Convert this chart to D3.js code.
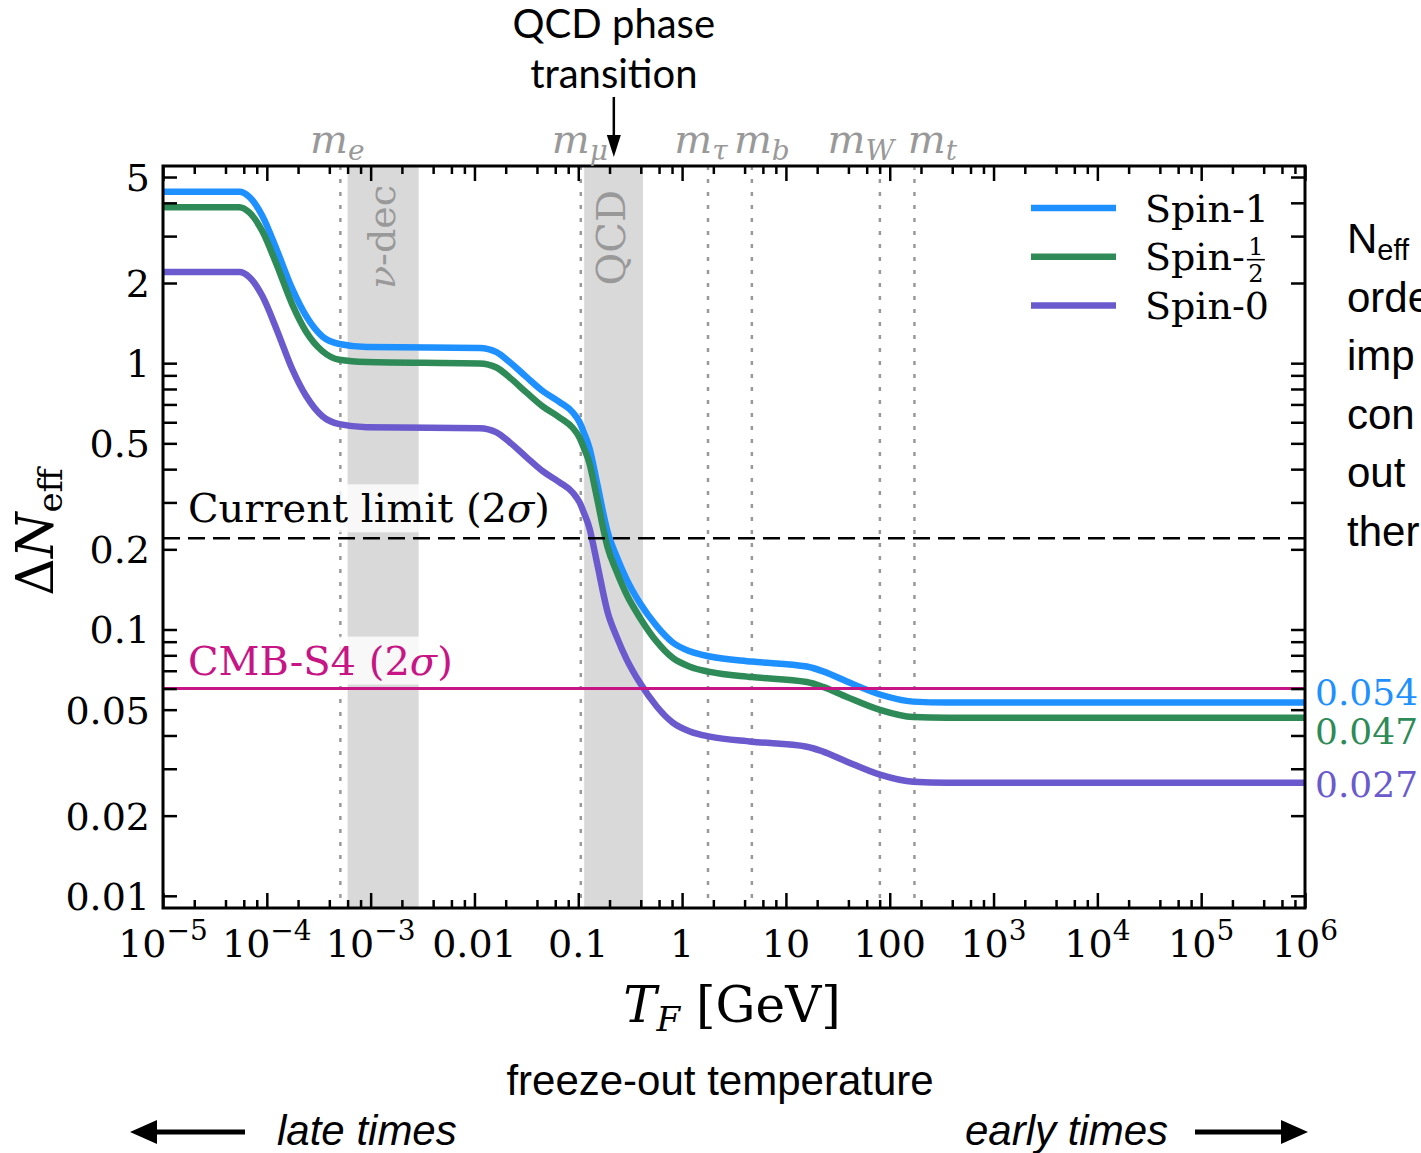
<!DOCTYPE html>
<html>
<head>
<meta charset="utf-8">
<script src="https://cdn.jsdelivr.net/npm/d3@7"></script>
<style>
  body { margin: 0; background: #fff; }
  svg text { font-family: "DejaVu Serif", serif; }
  svg text.sans { font-family: "Liberation Sans", Arial, sans-serif; }
  svg text.gill { font-family: Lato, "Open Sans", sans-serif; }
</style>
</head>
<body>
<div id="chart"></div>
<script>
// freeze-out temperature T_F in GeV
var temps = [1e-5, 5.43e-5, 6.78e-5, 9.06e-5, 1.24e-4, 1.76e-4, 2.40e-4, 3.43e-4, 5.00e-4, 9.12e-4,
  0.0112, 0.0163, 0.0218, 0.0318, 0.0454, 0.0661, 0.0883, 0.103, 0.113, 0.129,
  0.138, 0.154, 0.192, 0.234, 0.293, 0.391, 0.570, 0.813, 1.19, 1.85,
  4.70, 15.9, 22.8, 38.7, 80.5, 168, 357, 1e6];

// Delta N_eff for each spin
var spin1 = [4.40, 4.40, 4.21, 3.57, 2.68, 1.90, 1.50, 1.26, 1.18, 1.15,
  1.14, 1.10, 1.01, 0.886, 0.786, 0.714, 0.654, 0.600, 0.550, 0.476,
  0.424, 0.345, 0.232, 0.188, 0.154, 0.126, 0.103, 0.0894, 0.0828, 0.0792,
  0.0758, 0.0726, 0.0696, 0.0638, 0.0570, 0.0536, 0.0532, 0.0532];
var spinHalf = [3.85, 3.85, 3.68, 3.13, 2.35, 1.66, 1.31, 1.11, 1.03, 1.01,
  0.998, 0.963, 0.884, 0.775, 0.688, 0.625, 0.572, 0.525, 0.481, 0.417,
  0.371, 0.302, 0.203, 0.165, 0.135, 0.111, 0.090, 0.0782, 0.0725, 0.0693,
  0.0663, 0.0635, 0.0609, 0.0558, 0.0499, 0.0469, 0.0466, 0.0466];
var spin0 = [2.20, 2.20, 2.105, 1.786, 1.342, 0.949, 0.751, 0.632, 0.590, 0.575,
  0.570, 0.550, 0.505, 0.443, 0.393, 0.357, 0.327, 0.300, 0.275, 0.238,
  0.212, 0.1726, 0.116, 0.094, 0.0771, 0.0632, 0.0514, 0.0447, 0.0414, 0.0396,
  0.0379, 0.0363, 0.0348, 0.0319, 0.0285, 0.0268, 0.0266, 0.0266];

var seriesNames = ["Spin-1", "Spin-", "Spin-0"];
var asymptoteLabels = ["0.054", "0.047", "0.027"];

// particle masses in GeV
var massNames = ["e", "μ", "τ", "b", "W", "t"];
var massValues = [0.000511, 0.1057, 1.777, 4.7, 80.4, 173];

// shaded regions
var bandNames = ["dec", "QCD"];
var bandRanges = [[6.0e-4, 2.9e-3], [0.114, 0.42]];
var qcdArrowT = 0.22;

var currentLimit = 0.22;
var cmbS4 = 0.06;

var xTickValues = [1e-5, 1e-4, 1e-3, 0.01, 0.1, 1, 10, 100, 1e3, 1e4, 1e5, 1e6];
var xTickBase = ["10", "10", "10", "0.01", "0.1", "1", "10", "100", "10", "10", "10", "10"];
var xTickExp = ["−5", "−4", "−3", "", "", "", "", "", "3", "4", "5", "6"];
var yTickValues = [0.01, 0.02, 0.05, 0.1, 0.2, 0.5, 1, 2, 5];
var yTickLabels = ["0.01", "0.02", "0.05", "0.1", "0.2", "0.5", "1", "2", "5"];

var sideText = ["order", "imp", "con", "out", "ther"];

/////////////////////
/////  LAYOUT  /////
/////////////////////
var width = 1421, height = 1153;
var pLeft = 163, pRight = 1305, pTop = 166, pBottom = 908;
var colors = ["#1e90ff", "#2e8b57", "#6a5acd"];
var magenta = "#c71585";
var grey = "#999";
var massShift = [-3, -1, -7, 10, -19, 18];

var svg = d3.select("#chart").append("svg")
  .attr("width", width).attr("height", height)
  .style("display", "block");

var x = d3.scaleLog().domain([1e-5, 1e6]).range([pLeft, pRight]);
var y = d3.scaleLog().domain([0.009, 5.5]).range([pBottom, pTop]);

svg.append("clipPath").attr("id", "plotclip")
  .append("rect").attr("x", pLeft).attr("y", pTop)
  .attr("width", pRight - pLeft).attr("height", pBottom - pTop);

var plot = svg.append("g").attr("clip-path", "url(#plotclip)");

/* grey bands */
plot.selectAll(".band").data(bandRanges).enter()
  .append("rect").attr("class", "band")
  .attr("x", function(d) { return x(d[0]); })
  .attr("width", function(d) { return x(d[1]) - x(d[0]); })
  .attr("y", pTop).attr("height", pBottom - pTop)
  .style("fill", "#d9d9d9");

/* dotted mass lines */
plot.selectAll(".mass-line").data(massValues).enter()
  .append("line").attr("class", "mass-line")
  .attr("x1", function(d) { return x(d); }).attr("x2", function(d) { return x(d); })
  .attr("y1", pTop).attr("y2", pBottom)
  .style("stroke", grey).style("stroke-width", 2.5).style("stroke-dasharray", "4,9");

/* label with a white box behind */
function boxedLabel(txt, color, yPos) {
  var g = svg.append("g");
  var t = g.append("text").attr("x", 188).attr("y", yPos)
    .style("font-size", "40px").style("fill", color);
  t.append("tspan").text(txt + " (2");
  t.append("tspan").style("font-style", "italic").text("σ");
  t.append("tspan").text(")");
  var b = t.node().getBBox();
  g.insert("rect", "text")
    .attr("x", b.x - 6).attr("y", b.y - 1)
    .attr("width", b.width + 12).attr("height", b.height + 2)
    .style("fill", "#fff").style("opacity", 0.8);
}
boxedLabel("Current limit", "#000", y(currentLimit) - 16);
boxedLabel("CMB-S4", magenta, y(cmbS4) - 14);

/* curves */
var line = d3.line()
  .x(function(d) { return x(d[0]); })
  .y(function(d) { return y(d[1]); })
  .curve(d3.curveMonotoneX);

var series = [spin1, spinHalf, spin0];
series.forEach(function(vals, i) {
  var pts = temps.map(function(t, j) { return [t, vals[j]]; });
  svg.append("path").datum(pts)
    .attr("clip-path", "url(#plotclip)")
    .attr("d", line)
    .style("fill", "none").style("stroke", colors[i]).style("stroke-width", 6.5);
});

/* horizontal limits */
svg.append("line")
  .attr("x1", pLeft).attr("x2", pRight).attr("y1", y(currentLimit)).attr("y2", y(currentLimit))
  .style("stroke", "#000").style("stroke-width", 2.5).style("stroke-dasharray", "17,8");
svg.append("line")
  .attr("x1", pLeft).attr("x2", pRight).attr("y1", y(cmbS4)).attr("y2", y(cmbS4))
  .style("stroke", magenta).style("stroke-width", 3);

/* band labels, rotated */
var bandLab = [
  { bx: 11.5, ty: 185, size: 38 },
  { bx: 11, ty: 190, size: 40 }
];
bandRanges.forEach(function(b, i) {
  var cx = Math.sqrt(b[0] * b[1]);
  var t = svg.append("text")
    .attr("transform", "translate(" + (x(cx) + bandLab[i].bx) + "," + bandLab[i].ty + ") rotate(-90)")
    .attr("text-anchor", "end")
    .style("font-size", bandLab[i].size + "px").style("fill", grey);
  if (i == 0) {
    t.append("tspan").style("font-style", "italic").text("ν");
    t.append("tspan").text("-" + bandNames[i]);
  } else {
    t.text(bandNames[i]);
  }
});

/////////////////////
/////   AXES   /////
/////////////////////
var xMinor = [];
for (var d = -5; d < 6; d++) {
  [2, 4, 6, 8].forEach(function(k) { xMinor.push(k * Math.pow(10, d)); });
}
var yAll = [];
for (var n = -2; n <= 0; n++) {
  for (var k = 1; k <= 9; k++) {
    var v = k * Math.pow(10, n);
    if (v >= 0.009 && v <= 5.5) yAll.push(+v.toPrecision(3));
  }
}

function tickGroup(axis, transform) {
  var g = svg.append("g").attr("transform", transform).call(axis);
  g.select(".domain").remove();
  g.selectAll(".tick line").style("stroke", "#000").style("stroke-width", 2.5);
  return g;
}
tickGroup(d3.axisBottom(x).tickValues(xTickValues).tickSize(-15).tickFormat(""), "translate(0," + pBottom + ")");
tickGroup(d3.axisBottom(x).tickValues(xMinor).tickSize(-8).tickFormat(""), "translate(0," + pBottom + ")");
tickGroup(d3.axisTop(x).tickValues(xTickValues).tickSize(-15).tickFormat(""), "translate(0," + pTop + ")");
tickGroup(d3.axisTop(x).tickValues(xMinor).tickSize(-8).tickFormat(""), "translate(0," + pTop + ")");
tickGroup(d3.axisLeft(y).tickValues(yAll).tickSize(-14).tickFormat(""), "translate(" + pLeft + ",0)");
tickGroup(d3.axisRight(y).tickValues(yAll).tickSize(-14).tickFormat(""), "translate(" + pRight + ",0)");

svg.append("rect")
  .attr("x", pLeft).attr("y", pTop).attr("width", pRight - pLeft).attr("height", pBottom - pTop)
  .style("fill", "none").style("stroke", "#000").style("stroke-width", 3);

/* x tick labels */
xTickValues.forEach(function(v, i) {
  var t = svg.append("text").attr("x", x(v)).attr("y", 957)
    .attr("text-anchor", "middle").style("font-size", "38px");
  t.append("tspan").text(xTickBase[i]);
  if (xTickExp[i] != "") {
    t.append("tspan").attr("dy", -17).style("font-size", "28px").text(xTickExp[i]);
  }
});

/* y tick labels */
svg.selectAll(".ylab").data(yTickValues).enter()
  .append("text").attr("class", "ylab")
  .attr("x", 150).attr("y", function(d) { return y(d) + 14; })
  .attr("text-anchor", "end").style("font-size", "38px")
  .text(function(d, i) { return yTickLabels[i]; });

/* axis titles */
var xt = svg.append("text").attr("x", 732).attr("y", 1022)
  .attr("text-anchor", "middle").style("font-size", "50px");
xt.append("tspan").style("font-style", "italic").text("T");
xt.append("tspan").attr("dy", 9).style("font-size", "34px").style("font-style", "italic").text("F");
xt.append("tspan").attr("dy", -9).text("  [GeV]");

var yt = svg.append("text").attr("transform", "translate(53,532) rotate(-90)")
  .attr("text-anchor", "middle").style("font-size", "52px");
yt.append("tspan").text("Δ");
yt.append("tspan").style("font-style", "italic").text("N");
yt.append("tspan").attr("dy", 9).style("font-size", "34px").text("eff");

/* mass labels on top */
massValues.forEach(function(m, i) {
  var t = svg.append("text").attr("x", x(m) + massShift[i]).attr("y", 153)
    .attr("text-anchor", "middle").style("font-size", "40px").style("fill", grey)
    .style("font-style", "italic");
  t.append("tspan").text("m");
  t.append("tspan").attr("dy", 7).style("font-size", "28px").text(massNames[i]);
});

/* QCD phase transition annotation */
svg.append("text").attr("class", "gill").attr("x", x(qcdArrowT)).attr("y", 38)
  .attr("text-anchor", "middle").style("font-size", "40px").text("QCD phase");
svg.append("text").attr("class", "gill").attr("x", x(qcdArrowT)).attr("y", 88)
  .attr("text-anchor", "middle").style("font-size", "40px").text("transition");
svg.append("line").attr("x1", x(qcdArrowT)).attr("x2", x(qcdArrowT)).attr("y1", 97).attr("y2", 140)
  .style("stroke", "#000").style("stroke-width", 2.5);
svg.append("path")
  .attr("d", d3.line()([[x(qcdArrowT), 157], [x(qcdArrowT) - 7, 135], [x(qcdArrowT) + 7, 135]]))
  .style("fill", "#000");

/* legend */
seriesNames.forEach(function(name, i) {
  var ly = 208 + i * 48.7;
  svg.append("line").attr("x1", 1031).attr("x2", 1116).attr("y1", ly).attr("y2", ly)
    .style("stroke", colors[i]).style("stroke-width", 6.5);
  var t = svg.append("text").attr("x", 1145).attr("y", ly + 13.5)
    .style("font-size", "38px").text(name);
  if (i == 1) {
    var fx = 1145 + t.node().getComputedTextLength() + 11;
    svg.append("text").attr("x", fx).attr("y", ly - 2).attr("text-anchor", "middle")
      .style("font-size", "24px").text("1");
    svg.append("line").attr("x1", fx - 9).attr("x2", fx + 9).attr("y1", ly + 3).attr("y2", ly + 3)
      .style("stroke", "#000").style("stroke-width", 1.6);
    svg.append("text").attr("x", fx).attr("y", ly + 25).attr("text-anchor", "middle")
      .style("font-size", "24px").text("2");
  }
});

/* asymptotic values at the right edge */
var lastVals = [spin1[spin1.length - 1], spinHalf[spinHalf.length - 1], spin0[spin0.length - 1]];
var asymShift = [3, 26, 14];
asymptoteLabels.forEach(function(lab, i) {
  svg.append("text").attr("x", 1315).attr("y", y(lastVals[i]) + asymShift[i])
    .style("font-size", "36px").style("fill", colors[i]).text(lab);
});

/* cut-off text at the right */
var nt = svg.append("text").attr("class", "sans").attr("x", 1347).attr("y", 253)
  .style("font-size", "42px");
nt.append("tspan").text("N");
nt.append("tspan").attr("dy", 7).style("font-size", "29px").text("eff");
sideText.forEach(function(s, i) {
  svg.append("text").attr("class", "sans").attr("x", 1347).attr("y", 311.5 + i * 58.5)
    .style("font-size", "42px").text(s);
});

/* bottom captions */
svg.append("text").attr("class", "sans").attr("x", 720).attr("y", 1095)
  .attr("text-anchor", "middle").style("font-size", "42px").text("freeze-out temperature");
svg.append("text").attr("class", "sans").attr("x", 277).attr("y", 1145)
  .style("font-size", "42px").style("font-style", "italic").text("late times");
svg.append("text").attr("class", "sans").attr("x", 1168).attr("y", 1145)
  .attr("text-anchor", "end").style("font-size", "42px").style("font-style", "italic").text("early times");

svg.append("line").attr("x1", 245).attr("x2", 150).attr("y1", 1132).attr("y2", 1132)
  .style("stroke", "#000").style("stroke-width", 5);
svg.append("path").attr("d", d3.line()([[130, 1132], [157, 1120], [157, 1144]])).style("fill", "#000");
svg.append("line").attr("x1", 1195).attr("x2", 1288).attr("y1", 1132).attr("y2", 1132)
  .style("stroke", "#000").style("stroke-width", 5);
svg.append("path").attr("d", d3.line()([[1308, 1132], [1281, 1120], [1281, 1144]])).style("fill", "#000");
</script>
</body>
</html>
